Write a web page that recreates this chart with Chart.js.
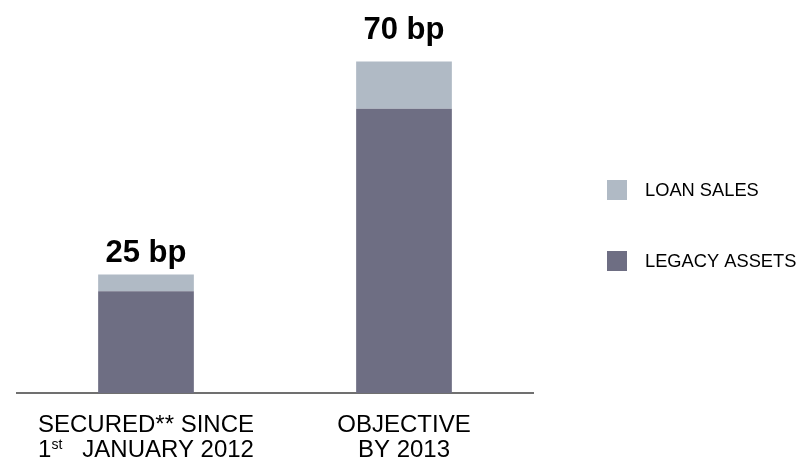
<!DOCTYPE html>
<html>
<head>
<meta charset="utf-8">
<script src="https://cdn.jsdelivr.net/npm/chart.js@4"></script>
<style>
  html, body { margin: 0; padding: 0; background: #ffffff; }
  #wrap { width: 800px; height: 460px; position: relative; }
</style>
</head>
<body>
<div id="wrap"><canvas id="chart" width="800" height="460"></canvas></div>
<script>
// Basis-point contributions, stacked per column
const categories = ['secured', 'objective'];
const categoryLines = [
  [[{ t: 'SECURED** SINCE' }], [{ t: '1' }, { t: 'st', sup: true }, { t: '   JANUARY 2012' }]],
  [[{ t: 'OBJECTIVE' }], [{ t: 'BY 2013' }]]
];
const legacyAssets = [21.5, 60];
const loanSales = [3.5, 10];
const totalLabels = ['25 bp', '70 bp'];

const COLOR_LEGACY = '#6e6e83';
const COLOR_LOAN = '#b0bac5';
const FONT = '"Liberation Sans", Arial, sans-serif';
// vertical gap between each column top and its total's baseline
const TOTAL_GAPS = [13, 22];

// Bold totals above each stacked column
const totalsPlugin = {
  id: 'totals',
  afterDatasetsDraw(chart) {
    const ctx = chart.ctx;
    const x = chart.scales.x, y = chart.scales.y;
    ctx.save();
    ctx.fillStyle = '#000000';
    ctx.font = 'bold 31px ' + FONT;
    ctx.textAlign = 'center';
    ctx.textBaseline = 'alphabetic';
    categories.forEach((c, i) => {
      const total = legacyAssets[i] + loanSales[i];
      ctx.fillText(totalLabels[i], x.getPixelForValue(i), y.getPixelForValue(total) - TOTAL_GAPS[i]);
    });
    ctx.restore();
  }
};

// Two-line category captions (with superscript ordinal)
const captionPlugin = {
  id: 'captions',
  afterDraw(chart) {
    const ctx = chart.ctx;
    const x = chart.scales.x;
    const base = chart.chartArea.bottom;
    ctx.save();
    ctx.fillStyle = '#000000';
    ctx.textBaseline = 'alphabetic';
    const mainFont = '24px ' + FONT;
    const supFont = '14px ' + FONT;
    categoryLines.forEach((lines, i) => {
      const cx = x.getPixelForValue(i);
      lines.forEach((parts, li) => {
        let w = 0;
        parts.forEach(p => { ctx.font = p.sup ? supFont : mainFont; w += ctx.measureText(p.t).width; });
        let px = cx - w / 2;
        const by = base + 39 + li * 25;
        parts.forEach(p => {
          ctx.font = p.sup ? supFont : mainFont;
          ctx.textAlign = 'left';
          ctx.fillText(p.t, px, p.sup ? by - 8 : by);
          px += ctx.measureText(p.t).width;
        });
      });
    });
    ctx.restore();
  }
};

// Legend on the right, loan sales listed above legacy assets
const legendPlugin = {
  id: 'sideLegend',
  afterDraw(chart) {
    const ctx = chart.ctx;
    const items = [chart.data.datasets[1], chart.data.datasets[0]];
    ctx.save();
    ctx.font = '18.3px ' + FONT;
    ctx.textBaseline = 'middle';
    ctx.textAlign = 'left';
    items.forEach((ds, k) => {
      const cy = 190 + k * 71;
      ctx.fillStyle = ds.backgroundColor;
      ctx.fillRect(607, cy - 10, 20, 20);
      ctx.fillStyle = '#000000';
      ctx.fillText(ds.label, 645, cy + 1);
    });
    ctx.restore();
  }
};

new Chart(document.getElementById('chart'), {
  type: 'bar',
  data: {
    labels: categories,
    datasets: [
      { label: 'LEGACY ASSETS', data: legacyAssets, backgroundColor: COLOR_LEGACY },
      { label: 'LOAN SALES', data: loanSales, backgroundColor: COLOR_LOAN }
    ]
  },
  options: {
    responsive: false,
    animation: false,
    layout: { padding: { left: 17, right: 267, top: 14, bottom: 67 } },
    datasets: { bar: { categoryPercentage: 1, barPercentage: 0.371 } },
    plugins: { legend: { display: false }, tooltip: { enabled: false } },
    scales: {
      x: {
        stacked: true,
        grid: { display: false, drawTicks: false },
        border: { display: true, color: '#707070', width: 2 },
        ticks: { display: false }
      },
      y: {
        stacked: true,
        min: 0,
        max: 80,
        display: false
      }
    }
  },
  plugins: [totalsPlugin, captionPlugin, legendPlugin]
});
</script>
</body>
</html>
